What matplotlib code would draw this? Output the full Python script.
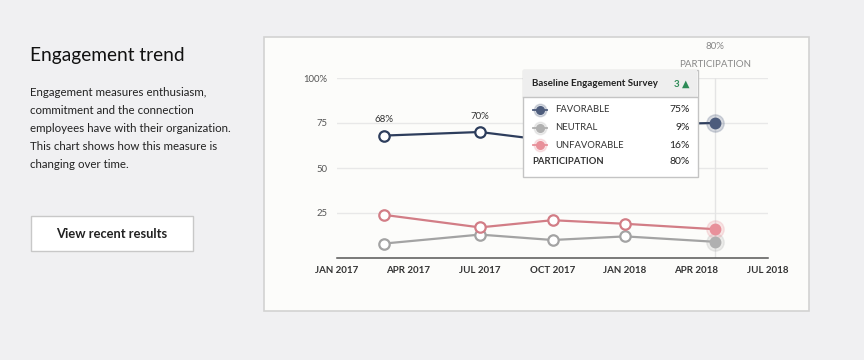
import matplotlib
matplotlib.use("Agg")
import matplotlib.pyplot as plt
from matplotlib.patches import Rectangle
from datetime import datetime

plt.rcParams['font.family'] = ['Lato', 'DejaVu Sans']

# survey dates and scores (percent)
dates = [datetime(2017, 3, 1), datetime(2017, 7, 1), datetime(2017, 10, 1),
         datetime(2018, 1, 1), datetime(2018, 4, 25)]
favorable = [68, 70, 65, 74, 75]
neutral = [8, 13, 10, 12, 9]
unfavorable = [24, 17, 21, 19, 16]
participation = 80
labeled = 2  # only the first labels are visible, the rest sit under the tooltip

xticks = [datetime(2017, 1, 1), datetime(2017, 4, 1), datetime(2017, 7, 1),
          datetime(2017, 10, 1), datetime(2018, 1, 1), datetime(2018, 4, 1),
          datetime(2018, 7, 1)]
xlabels = ["JAN 2017", "APR 2017", "JUL 2017", "OCT 2017", "JAN 2018", "APR 2018", "JUL 2018"]
yticks = [25, 50, 75, 100]
ylabels = ["25", "50", "75", "100%"]

tip_title = "Baseline Engagement Survey"
tip_rows = ["FAVORABLE", "NEUTRAL", "UNFAVORABLE"]
tip_count = "3 \u25B2"

c_fav = "#2d3d5c"
c_neu = "#a3a3a3"
c_unf = "#d27d86"
c_fav_dot = "#4d5c7c"
c_neu_dot = "#b0b0b0"
c_unf_dot = "#e8909a"

fig = plt.figure(figsize=(8.64, 3.6), dpi=100)
fig.patch.set_facecolor("#f0f0f2")

# background card
bg = fig.add_axes([0, 0, 1, 1], zorder=-1)
bg.set_xlim(0, 864)
bg.set_ylim(360, 0)
bg.axis("off")
bg.add_patch(Rectangle((263.5, 36.5), 545, 274, facecolor="#fcfcfa", edgecolor="#d2d2d2", lw=1.2))

# main chart
ax = fig.add_axes([337 / 864, 102 / 360, 431 / 864, 180 / 360])
ax.set_facecolor("none")
ax.set_xlim(xticks[0], xticks[-1])
ax.set_ylim(0, 100)
for s in ["top", "right", "left"]:
    ax.spines[s].set_visible(False)
ax.spines["bottom"].set_color("#555555")
ax.spines["bottom"].set_linewidth(1.1)
ax.set_yticks(yticks)
ax.set_yticklabels(ylabels, fontsize=6.8, color="#555555")
ax.set_xticks(xticks)
ax.set_xticklabels(xlabels, fontsize=7, color="#333333", fontweight="bold")
ax.tick_params(axis="both", length=0)
ax.tick_params(axis="y", pad=7)
ax.tick_params(axis="x", pad=6)
ax.grid(axis="y", color="#e8e8e8", lw=1)
ax.set_axisbelow(True)

ax.axvline(dates[-1], color="#e4e4e4", lw=1, zorder=1)

for vals, col, dot in [(neutral, c_neu, c_neu_dot), (unfavorable, c_unf, c_unf_dot), (favorable, c_fav, c_fav_dot)]:
    ax.plot(dates, vals, color=col, lw=1.6, zorder=2)
    ax.plot(dates[:-1], vals[:-1], "o", ms=7.5, mfc="white", mec=col, mew=1.6, zorder=3, clip_on=False)
    ax.plot(dates[-1], vals[-1], "o", ms=12.5, mfc=dot, mec=dot, alpha=0.22, zorder=3, clip_on=False)
    ax.plot(dates[-1], vals[-1], "o", ms=7.5, mfc=dot, mec=dot, zorder=4, clip_on=False)

for d, v in zip(dates[:labeled], favorable[:labeled]):
    ax.annotate(f"{v}%", (d, v), xytext=(0, 8), textcoords="offset points",
                ha="center", va="bottom", fontsize=7, color="#333333")

ax.annotate(f"{participation}%", (dates[-1], 100), xytext=(0, 23), textcoords="offset points",
            ha="center", va="center", fontsize=7, color="#888888", annotation_clip=False)
ax.annotate("PARTICIPATION", (dates[-1], 100), xytext=(0, 10), textcoords="offset points",
            ha="center", va="center", fontsize=7, color="#888888", annotation_clip=False)

# overlay: left text panel and tooltip
ov = fig.add_axes([0, 0, 1, 1], zorder=5)
ov.set_xlim(0, 864)
ov.set_ylim(360, 0)
ov.axis("off")

ov.text(30, 56, "Engagement trend", fontsize=13.8, color="#111111", va="center", ha="left")
desc = ["Engagement measures enthusiasm,",
        "commitment and the connection",
        "employees have with their organization.",
        "This chart shows how this measure is",
        "changing over time."]
for i, line in enumerate(desc):
    ov.text(30, 93 + i * 18, line, fontsize=8.3, color="#222222", va="center", ha="left")

ov.add_patch(Rectangle((31, 216), 162, 35, facecolor="white", edgecolor="#c8c8c8", lw=1))
ov.text(112, 234, "View recent results", fontsize=9.3, color="#222222", va="center", ha="center", fontweight="bold")

# tooltip
ov.add_patch(Rectangle((522.5, 69.5), 175, 107, facecolor="white", edgecolor="#c4c4c4", lw=1, zorder=1))
ov.add_patch(Rectangle((523, 70), 174, 27, facecolor="#eeeeee", edgecolor="none", zorder=2))
ov.plot([523, 697], [97, 97], color="#c4c4c4", lw=1, zorder=3)
ov.text(532, 84, tip_title, fontsize=7, fontweight="bold", color="#222222", va="center", zorder=4)
ov.text(690, 84, tip_count, fontsize=7, fontweight="bold", color="#2e8b57", va="center", ha="right", zorder=4)

tip_vals = [favorable[-1], neutral[-1], unfavorable[-1]]
for i, (name, v, col) in enumerate(zip(tip_rows, tip_vals, [c_fav_dot, c_neu_dot, c_unf_dot])):
    y = 110 + i * 17.5
    ov.plot([533, 547], [y, y], color=col, lw=1.3, zorder=4)
    ov.plot(540, y, "o", ms=9, mfc=col, mec=col, alpha=0.22, zorder=4)
    ov.plot(540, y, "o", ms=5.5, mfc=col, mec=col, zorder=5)
    ov.text(555, y, name, fontsize=6.8, color="#333333", va="center", zorder=5)
    ov.text(690, y, f"{v}%", fontsize=7.5, color="#222222", va="center", ha="right", zorder=5)
ov.text(532, 162, "PARTICIPATION", fontsize=6.8, color="#333333", va="center", zorder=5, fontweight="bold")
ov.text(690, 162, f"{participation}%", fontsize=7.5, color="#222222", va="center", ha="right", zorder=5)

fig.savefig("out.png", dpi=100, facecolor=fig.get_facecolor())
